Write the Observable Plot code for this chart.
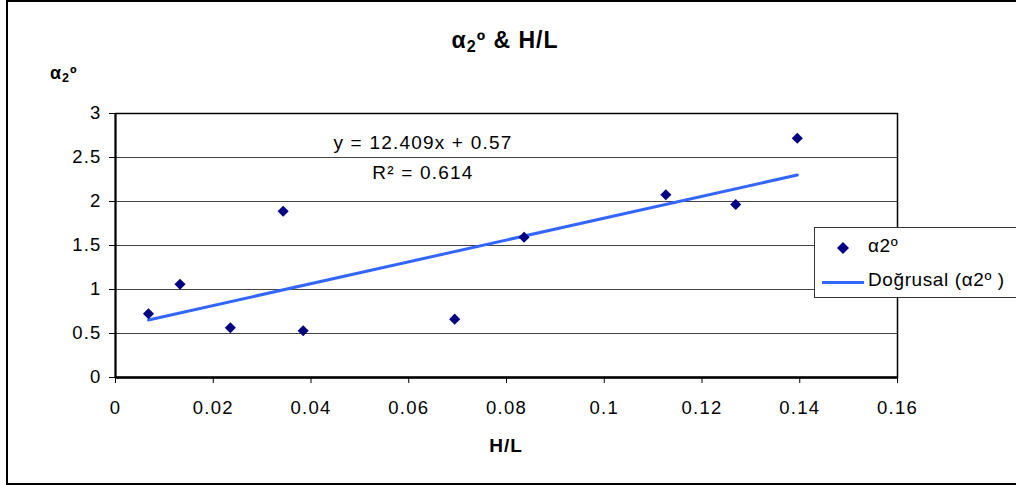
<!DOCTYPE html>
<html><head><meta charset="utf-8">
<script src="https://cdn.jsdelivr.net/npm/d3@7"></script>
<script src="https://cdn.jsdelivr.net/npm/@observablehq/plot@0.6"></script>
<style>
body{margin:0;background:#fff;}
#wrap{position:relative;width:1016px;height:485px;overflow:hidden;font-family:"Liberation Sans",Arial,sans-serif;color:#000;background:#fff;}
#border{position:absolute;left:6px;top:0;width:1020px;height:481px;border-top:2px solid #000;border-left:2px solid #000;border-bottom:2px solid #000;}
#plot{position:absolute;left:0;top:0;}
.ttl{position:absolute;font-weight:bold;white-space:nowrap;letter-spacing:1px;}
#title{left:0;width:1010px;top:27px;text-align:center;font-size:23px;}
#ytitle{left:50px;top:63px;font-size:18px;}
#xtitle{left:0;width:1012px;top:435px;text-align:center;font-size:19px;}
sub{font-size:0.7em;vertical-align:-0.25em;}
#legend{position:absolute;left:814px;top:227px;width:220px;height:69px;border:1px solid #333;background:#fff;}
#legend .lt{position:absolute;left:53px;font-size:19px;letter-spacing:0.6px;white-space:nowrap;}
</style></head>
<body>
<div id="wrap">
  <div id="border"></div>
  <div id="plot"></div>
  <div id="title" class="ttl">α<sub>2</sub>º &amp; H/L</div>
  <div id="ytitle" class="ttl">α<sub>2</sub>º</div>
  <div id="xtitle" class="ttl">H/L</div>
  <div id="legend">
    <svg width="60" height="69" style="position:absolute;left:0;top:0">
      <path d="M28,14 L34,20 L28,26 L22,20 Z" fill="#000080"></path>
      <line x1="7" x2="49" y1="54.5" y2="54.5" stroke="#3366ff" stroke-width="3"></line>
    </svg>
    <div class="lt" style="top:7px">α2º</div>
    <div class="lt" style="top:41px">Doğrusal (α2º )</div>
  </div>
</div>
<script>
// Data
const hl = [0.00675, 0.0132, 0.0235, 0.0343, 0.0384, 0.0694, 0.0836, 0.1126, 0.1269, 0.1395];
const alpha2 = [0.724, 1.060, 0.565, 1.890, 0.531, 0.663, 1.594, 2.076, 1.966, 2.719];
const trendSlope = 12.409;
const trendIntercept = 0.57;
const eqnLines = ["y = 12.409x + 0.57", "R² = 0.614"];
const xTicks = [0, 0.02, 0.04, 0.06, 0.08, 0.1, 0.12, 0.14, 0.16];
const xTickLabels = ["0", "0.02", "0.04", "0.06", "0.08", "0.1", "0.12", "0.14", "0.16"];
const yTicks = [0, 0.5, 1, 1.5, 2, 2.5, 3];
const yTickLabels = ["0", "0.5", "1", "1.5", "2", "2.5", "3"];

// annotation anchor (data coordinates)
const eqnAnchorX = 0.0629;
const eqnAnchorY = [2.67, 2.33];

const points = hl.map((x, i) => ({x, y: alpha2[i]}));
const trendX = [d3.min(hl), d3.max(hl)];
const trend = trendX.map(x => ({x, y: trendSlope * x + trendIntercept}));
const eqn = eqnLines.map((t, i) => ({t, x: eqnAnchorX, y: eqnAnchorY[i]}));

const chart = Plot.plot({
  width: 1016, height: 485,
  marginLeft: 115, marginRight: 119, marginTop: 113, marginBottom: 108,
  style: {fontFamily: "'Liberation Sans', Arial, sans-serif", fontSize: "18.5px", background: "transparent", color: "#000", letterSpacing: "1.2px"},
  x: {domain: [0, 0.16]},
  y: {domain: [0, 3]},
  marks: [
    Plot.gridY(yTicks, {stroke: "#444", strokeOpacity: 1, strokeWidth: 1}),
    Plot.axisY(yTicks, {tickSize: 6, tickPadding: 8, label: null, fontSize: 18.5, tickFormat: d => yTickLabels[yTicks.indexOf(d)]}),
    Plot.axisX(xTicks, {tickSize: 6, tickPadding: 17, label: null, fontSize: 18.5, tickFormat: d => xTickLabels[xTicks.indexOf(d)]}),
    Plot.frame({stroke: "#000", strokeWidth: 1.5}),
    Plot.ruleY([0], {stroke: "#000", strokeWidth: 2.5}),
    Plot.ruleX([0], {stroke: "#000", strokeWidth: 2}),
    Plot.line(trend, {x: "x", y: "y", stroke: "#3366ff", strokeWidth: 3}),
    Plot.dot(points, {x: "x", y: "y", symbol: "diamond2", fill: "#000080", stroke: "none", r: 5}),
    Plot.text(eqn, {x: "x", y: "y", text: "t", fontSize: 19, textAnchor: "middle", fill: "#000", style: "letter-spacing:1.5px"})
  ]
});
document.getElementById("plot").appendChild(chart);
</script>
</body></html>
